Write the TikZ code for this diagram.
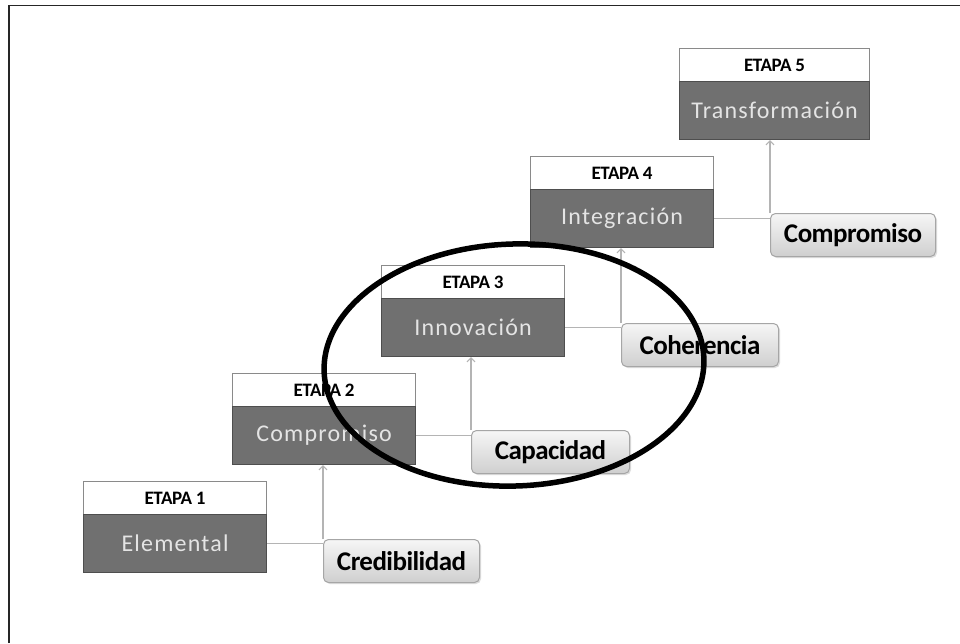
\documentclass[tikz,border=0pt]{standalone}
\usepackage{fontspec}
\setmainfont{Carlito}
\newfontfamily\spacedfont[LetterSpace=5]{Carlito}
\newfontfamily\headfont[LetterSpace=-2]{Carlito}
\newfontfamily\tightfont[LetterSpace=-2]{Carlito}
\usetikzlibrary{arrows.meta,shadows,shapes.geometric}
\definecolor{bodygray}{HTML}{707070}
\definecolor{bodyedge}{HTML}{4E4E4E}
\definecolor{headedge}{HTML}{8A8A8A}
\definecolor{bodytext}{HTML}{E4E4E4}
\definecolor{linkgray}{HTML}{B4B4B4}
\definecolor{labtop}{HTML}{F6F6F6}
\definecolor{labbot}{HTML}{CFCFCF}
\definecolor{labedge}{HTML}{A6A6A6}
\tikzset{
  headbox/.style={draw=headedge, line width=1.2pt, fill=white, minimum width=183pt, minimum height=33pt, inner sep=0pt, anchor=north west, font=\headfont\fontsize{19}{19}\selectfont\bfseries},
  bodybox/.style={draw=bodyedge, line width=1.2pt, fill=bodygray, minimum width=183pt, minimum height=58pt, inner sep=0pt, anchor=north west, text=bodytext, font=\spacedfont\fontsize{24}{24}\selectfont},
  labbox/.style={draw=labedge, line width=1pt, rounded corners=5pt, top color=labtop, bottom color=labbot, minimum height=43pt, inner sep=0pt, anchor=north west, font=\tightfont\fontsize{27}{27}\selectfont\bfseries, drop shadow={shadow xshift=1.5pt, shadow yshift=-1.5pt, fill=black!25}},
  link/.style={draw=linkgray, line width=1.2pt},
  uparrow/.style={link, -{Straight Barb[length=4pt,width=8pt,line width=1pt]}},
  ring/.style={draw=black, line width=5.5pt}
}
\begin{document}
\begin{tikzpicture}[x=1pt,y=-1pt]
\useasboundingbox (0,0) rectangle (960,643);
\fill[white] (0,0) rectangle (960,643);
\draw[line width=1.2pt, black!85] (9,643) -- (9,5.5) -- (960,5.5);
% stages
\node[headbox] (h1) at (83,481) {ETAPA 1};
\node[bodybox] (b1) at (83,514) {Elemental};
\node[headbox] (h2) at (232,373) {ETAPA 2};
\node[bodybox] (b2) at (232,406) {Compromiso};
\node[headbox] (h3) at (381,265) {ETAPA 3};
\node[bodybox] (b3) at (381,298) {Innovación};
\node[headbox] (h4) at (530,156) {ETAPA 4};
\node[bodybox] (b4) at (530,189) {Integración};
\node[headbox, minimum width=190pt] (h5) at (679,48) {ETAPA 5};
\node[bodybox, minimum width=190pt] (b5) at (679,81) {Transformación};
% labels
\node[labbox, minimum width=156pt] (l1) at (323,539) {Credibilidad};
\node[labbox, minimum width=158pt] (l2) at (471,430) {Capacidad};
\node[labbox, minimum width=157pt] (l3) at (621,323) {Coherencia};
\node[labbox, minimum width=165pt] (l4) at (770,213) {Compromiso};
% connectors
\coordinate (j1) at (b1.east -| l1.west);
\coordinate (j2) at (b2.east -| l2.west);
\coordinate (j3) at (b3.east -| l3.west);
\coordinate (j4) at (b4.east -| l4.west);
\draw[link] (b1.east) -- (j1);
\draw[link] (b2.east) -- (j2);
\draw[link] (b3.east) -- (j3);
\draw[link] (b4.east) -- (j4);
\draw[uparrow] (l1.north west) -- (l1.north west |- b2.south);
\draw[uparrow] (l2.north west) -- (l2.north west |- b3.south);
\draw[uparrow] (l3.north west) -- (l3.north west |- b4.south);
\draw[uparrow] (l4.north west) -- (l4.north west |- b5.south);
% hand-drawn ellipse
\node[ring, ellipse, minimum width=380pt, minimum height=242pt, inner sep=0pt, rotate=2] (ring) at (514,365) {};
\end{tikzpicture}
\end{document}
